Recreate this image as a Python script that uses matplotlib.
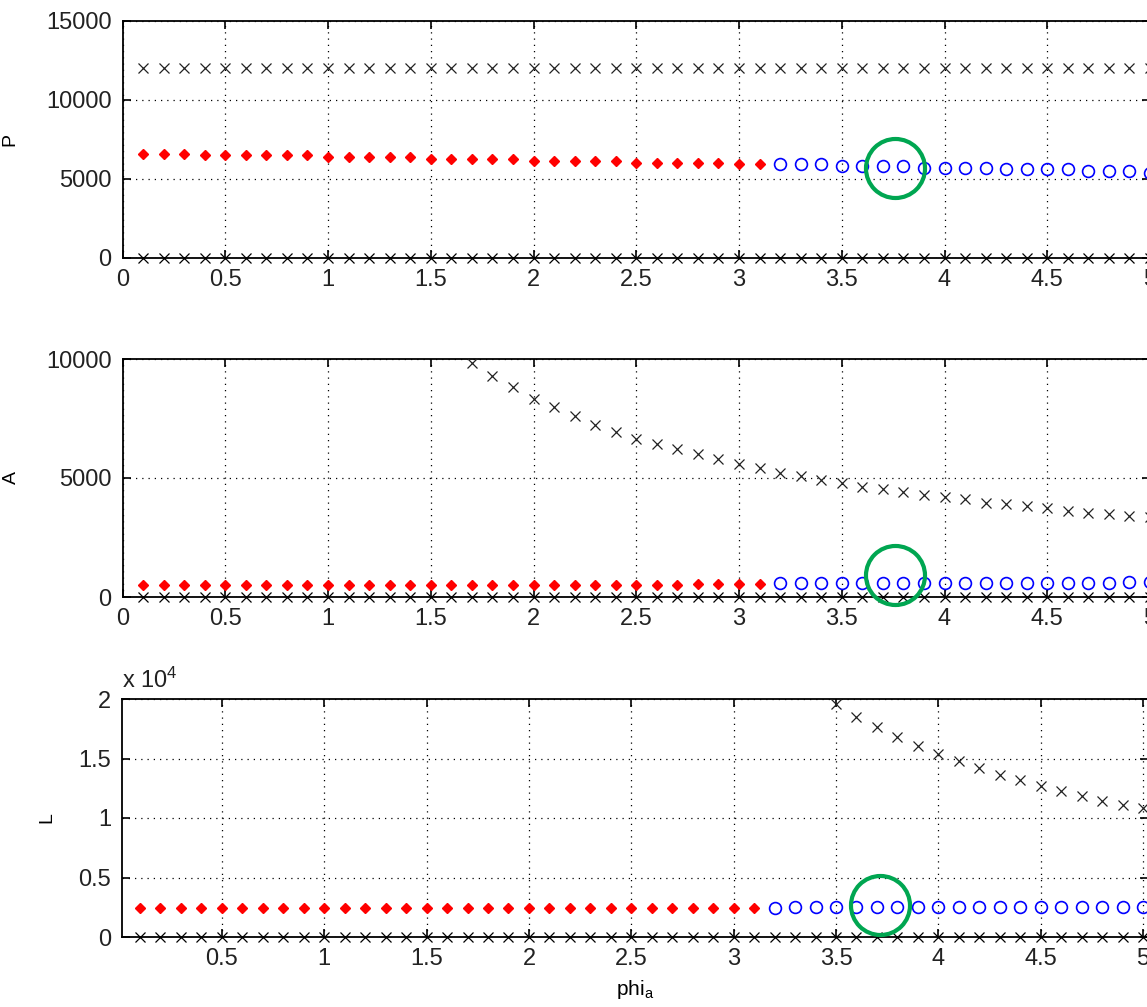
import numpy as np
import matplotlib
matplotlib.use('Agg')
import matplotlib.pyplot as plt

plt.rcParams['font.family'] = ['Liberation Sans', 'DejaVu Sans']
plt.rcParams['mathtext.fontset'] = 'custom'
plt.rcParams['mathtext.rm'] = 'Liberation Sans'
plt.rcParams['mathtext.it'] = 'Liberation Sans'

# phi_a grid
phi = np.round(np.arange(1, 51) * 0.1, 1)
n_stable = 31  # red points up to phi_a = 3.1, blue circles after

# P panel
P_zero = [0] * 50
P_upper = [12000] * 50
P_stable = [6580, 6580, 6580, 6480, 6480, 6480, 6480, 6480, 6480,
            6370, 6370, 6370, 6370, 6370, 6250, 6250, 6250, 6250, 6250,
            6140, 6140, 6140, 6140, 6140, 6030, 6030, 6030, 6030, 6030,
            5920, 5920]
P_unstable = [5920, 5920, 5920, 5830, 5830, 5830, 5830, 5710, 5710, 5710,
              5710, 5600, 5600, 5600, 5600, 5480, 5480, 5480, 5400]

# A panel
A_zero = [0] * 50
A_upper_phi = phi[16:]  # from 1.7
A_upper = [9840, 9280, 8830, 8320, 7970, 7600, 7240, 6940, 6640, 6440,
           6220, 6010, 5800, 5570, 5400, 5200, 5070, 4910, 4780, 4620,
           4540, 4410, 4270, 4190, 4100, 3950, 3890, 3840, 3730, 3600,
           3540, 3470, 3400, 3350]
A_stable = [490] * 27 + [560] * 4
A_unstable = [570] * 17 + [640] * 2

# L panel
L_zero = [0] * 50
L_upper_phi = phi[34:]  # from 3.5
L_upper = [19550, 18500, 17640, 16780, 16040, 15350, 14760, 14170,
           13580, 13160, 12710, 12290, 11840, 11420, 11110, 10860]
L_stable = [2410] * 31
L_unstable = [2410] + [2540] * 18

# highlighted points (green rings)
ring_x = [3.76, 3.76, 3.715]
ring_y = [5690, 945, 2713]

W, H = 1147, 1007
fig = plt.figure(figsize=(W / 100, H / 100), dpi=100)


def px_axes(left, right, top, bottom):
    return fig.add_axes([left / W, (H - bottom) / H, (right - left) / W, (bottom - top) / H])


ax1 = px_axes(122.5, 1150, 20.7, 258)
ax2 = px_axes(122.5, 1150, 359, 597)
ax3 = px_axes(122, 1148, 699, 937)

panels = [
    (ax1, P_zero, phi, P_upper, P_stable, P_unstable),
    (ax2, A_zero, A_upper_phi, A_upper, A_stable, A_unstable),
    (ax3, L_zero, L_upper_phi, L_upper, L_stable, L_unstable),
]

for i, (ax, zero, up_x, up_y, st, un) in enumerate(panels):
    ax.plot(phi, zero, 'x', color='black', ms=7, mew=0.9, clip_on=False, zorder=5)
    ax.plot(up_x, up_y, 'x', color='#222222', ms=7, mew=0.9, clip_on=False, zorder=5)
    ax.plot(phi[:n_stable], st, 'D', color='red', ms=4.8, mew=1.0, zorder=4)
    ax.plot(phi[n_stable:], un, 'o', mfc='none', mec='blue', ms=8.5, mew=1.2, zorder=4)
    ax.plot(ring_x[i], ring_y[i], 'o', mfc='none', mec='#00A651', ms=42.5, mew=3.0,
            clip_on=False, zorder=10)

    ax.grid(True, color='black', linestyle=(0, (1, 4)), linewidth=0.9)
    ax.tick_params(direction='in', top=True, right=True, length=6, width=1.2,
                   labelsize=17, pad=8, labelcolor='#222222')
    for s in ax.spines.values():
        s.set_linewidth(1.3)

ax1.set_xlim(0, 5)
ax2.set_xlim(0, 5)
ax3.set_xlim(0.012, 5.024)
xt = [0, 0.5, 1, 1.5, 2, 2.5, 3, 3.5, 4, 4.5, 5]
xl = ['0', '0.5', '1', '1.5', '2', '2.5', '3', '3.5', '4', '4.5', '5']
ax1.set_xticks(xt, xl)
ax2.set_xticks(xt, xl)
ax3.set_xticks(xt[1:], xl[1:])

ax1.set_ylim(0, 15000)
ax1.set_yticks([0, 5000, 10000, 15000], ['0', '5000', '10000', '15000'])
ax2.set_ylim(0, 10000)
ax2.set_yticks([0, 5000, 10000], ['0', '5000', '10000'])
ax3.set_ylim(0, 20000)
ax3.set_yticks([0, 5000, 10000, 15000, 20000], ['0', '0.5', '1', '1.5', '2'])

ax1.set_ylabel('P', fontsize=14)
ax1.yaxis.set_label_coords(-0.1017, 0.5)
ax2.set_ylabel('A', fontsize=14)
ax2.yaxis.set_label_coords(-0.0998, 0.5)
ax3.set_ylabel('L', fontsize=14)
ax3.yaxis.set_label_coords(-0.0653, 0.5)

ax3.text(0, 1.045, r'x 10$^{4}$', transform=ax3.transAxes, fontsize=17,
         ha='left', va='baseline', color='#222222')
ax3.set_xlabel(r'phi$_{\mathregular{a}}$', fontsize=15, labelpad=6)

fig.savefig('out.png', dpi=100)
